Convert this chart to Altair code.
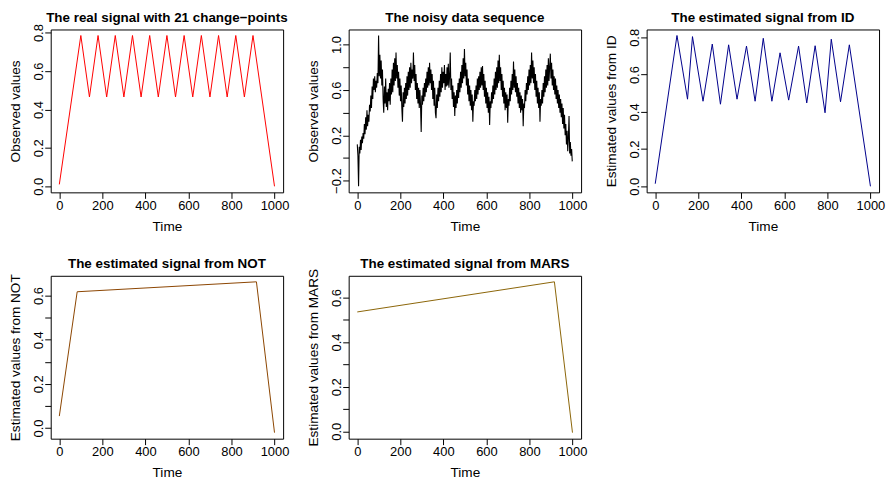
import altair as alt
import pandas as pd

FONT = "Liberation Sans"

# ---- data ----
real_t = [0, 100, 140, 180, 220, 260, 300, 340, 380, 420, 460, 500,
          540, 580, 620, 660, 700, 740, 780, 820, 860, 900, 1000]
real_v = [0.01, 0.785, 0.465, 0.785, 0.465, 0.785, 0.465, 0.785, 0.465, 0.785, 0.465, 0.785,
          0.465, 0.785, 0.465, 0.785, 0.465, 0.785, 0.465, 0.785, 0.465, 0.785, 0.0]

noisy_v = [
    0.12, 0.02, -0.25, 0.10, 0.04, 0.16, 0.07, 0.19, 0.13, 0.22,
    0.17, 0.30, 0.21, 0.36, 0.25, 0.42, 0.28, 0.38, 0.32, 0.47,
    0.41, 0.55, 0.44, 0.63, 0.52, 0.70, 0.60, 0.72, 0.58, 0.68,
    0.62, 0.75, 0.66, 1.08, 0.72, 0.91, 0.70, 0.86, 0.64, 0.78,
    0.52, 0.40, 0.63, 0.48, 0.70, 0.45, 0.58, 0.42, 0.61, 0.50,
    0.66, 0.47, 0.70, 0.56, 0.78, 0.58, 0.84, 0.64, 0.88, 0.68,
    0.93, 0.70, 0.82, 0.62, 0.76, 0.55, 0.70, 0.50, 0.64, 0.44,
    0.32, 0.58, 0.45, 0.62, 0.48, 0.66, 0.52, 0.72, 0.55, 0.76,
    0.60, 0.80, 0.62, 0.84, 0.66, 0.78, 0.70, 0.93, 0.68, 0.82,
    0.60, 0.74, 0.52, 0.66, 0.48, 0.62, 0.44, 0.60, 0.46, 0.23,
    0.55, 0.47, 0.62, 0.50, 0.66, 0.54, 0.70, 0.58, 0.76, 0.62,
    0.80, 0.64, 0.84, 0.66, 0.78, 0.60, 0.74, 0.52, 0.68, 0.46,
    0.62, 0.40, 0.35, 0.56, 0.44, 0.62, 0.50, 0.68, 0.54, 0.74,
    0.58, 0.80, 0.62, 0.76, 0.66, 0.82, 0.60, 0.74, 0.63, 0.80,
    0.64, 0.83, 0.62, 0.72, 0.93, 0.60, 0.70, 0.52, 0.64, 0.45,
    0.58, 0.37, 0.55, 0.44, 0.60, 0.48, 0.66, 0.53, 0.70, 0.58,
    0.76, 0.62, 0.82, 0.66, 0.88, 0.70, 0.96, 0.72, 0.84, 0.64,
    0.78, 0.56, 0.70, 0.50, 0.64, 0.46, 0.60, 0.42, 0.56, 0.32,
    0.50, 0.46, 0.60, 0.50, 0.64, 0.52, 0.70, 0.56, 0.72, 0.60,
    0.76, 0.62, 0.80, 0.64, 0.81, 0.60, 0.74, 0.54, 0.68, 0.48,
    0.62, 0.44, 0.58, 0.40, 0.54, 0.29, 0.50, 0.44, 0.58, 0.48,
    0.64, 0.52, 0.70, 0.56, 0.76, 0.60, 0.80, 0.62, 0.86, 0.66,
    0.91, 0.68, 0.80, 0.60, 0.74, 0.54, 0.68, 0.48, 0.62, 0.42,
    0.58, 0.44, 0.56, 0.31, 0.52, 0.46, 0.62, 0.50, 0.68, 0.56,
    0.74, 0.60, 0.85, 0.62, 0.78, 0.58, 0.72, 0.54, 0.66, 0.48,
    0.62, 0.44, 0.58, 0.40, 0.55, 0.42, 0.52, 0.28, 0.48, 0.44,
    0.60, 0.50, 0.66, 0.56, 0.72, 0.60, 0.78, 0.64, 0.82, 0.66,
    0.93, 0.70, 0.86, 0.66, 0.80, 0.60, 0.74, 0.54, 0.68, 0.48,
    0.62, 0.44, 0.58, 0.32, 0.52, 0.46, 0.60, 0.48, 0.66, 0.54,
    0.72, 0.58, 0.78, 0.62, 0.82, 0.64, 0.88, 0.68, 0.80, 0.92,
    0.70, 0.84, 0.64, 0.78, 0.60, 0.72, 0.56, 0.70, 0.52, 0.64,
    0.48, 0.60, 0.44, 0.56, 0.40, 0.52, 0.36, 0.48, 0.30, 0.44,
    0.26, 0.38, 0.20, 0.30, 0.12, 0.24, 0.06, 0.18, 0.37, 0.04,
    0.14, 0.02, 0.08, -0.03,
]
noisy_t = list(range(0, 1000, 3))

id_t = [0, 101, 150, 173, 222, 265, 303, 341, 380, 424, 464, 502,
        542, 580, 620, 666, 704, 743, 789, 818, 861, 902, 1000]
id_v = [0.014, 0.81, 0.468, 0.804, 0.457, 0.764, 0.441, 0.76, 0.468, 0.753, 0.457, 0.795,
        0.457, 0.717, 0.463, 0.753, 0.448, 0.755, 0.395, 0.79, 0.454, 0.76, 0.0]

not_t = [0, 83, 916, 1000]
not_v = [0.054, 0.617, 0.662, -0.021]

mars_t = [0, 916, 1000]
mars_v = [0.535, 0.670, -0.006]

x_ticks = [0, 200, 400, 600, 800, 1000]

W, H = 234, 164


def ext(lo, hi):
    d = (hi - lo) * 0.04
    return [lo - d, hi + d]


def panel(ts, vs, color, title, ytitle, yticks, label_ids, lw=1.0):
    df = pd.DataFrame({"t": ts, "v": vs})
    label_expr = (
        "indexof([" + ",".join(str(i) for i in label_ids) + "], round(datum.value*10)) >= 0"
        " ? format(datum.value, '.1f') : ''"
    )
    line = (
        alt.Chart(df)
        .mark_line(color=color, strokeWidth=lw)
        .encode(
            x=alt.X(
                "t:Q",
                scale=alt.Scale(domain=ext(0, 1000), nice=False, zero=False),
                axis=alt.Axis(
                    title="Time", values=x_ticks, format="d", labelOverlap=False,
                    labelFlush=False,
                ),
            ),
            y=alt.Y(
                "v:Q",
                scale=alt.Scale(domain=ext(min(vs), max(vs)), nice=False, zero=False),
                axis=alt.Axis(
                    title=ytitle, values=yticks, labelExpr=label_expr,
                    labelAngle=270, labelAlign="center", labelBaseline="bottom",
                    labelOverlap=False, labelFlush=False,
                ),
            ),
        )
    )
    head = (
        alt.Chart(pd.DataFrame({"label": [title]}))
        .mark_text(font=FONT, fontSize=13.5, fontWeight="bold", color="black",
                   align="center", baseline="alphabetic")
        .encode(text="label:N", x=alt.value(W / 2), y=alt.value(-8))
    )
    return alt.layer(line, head).properties(width=W, height=H)


y08 = [0.0, 0.2, 0.4, 0.6, 0.8]
p1 = panel(real_t, real_v, "#FF0000", "The real signal with 21 change\u2212points",
           "Observed values", y08, [0, 2, 4, 6, 8])
p2 = panel(noisy_t, noisy_v, "#000000", "The noisy data sequence", "Observed values",
           [-0.2, 0.0, 0.2, 0.4, 0.6, 0.8, 1.0], [-2, 2, 6, 10], lw=1.1)
p3 = panel(id_t, id_v, "#00008B", "The estimated signal from ID",
           "Estimated values from ID", y08, [0, 2, 4, 6, 8])
y06 = [0.0, 0.1, 0.2, 0.3, 0.4, 0.5, 0.6]
p4 = panel(not_t, not_v, "#8B4500", "The estimated signal from NOT",
           "Estimated values from NOT", y06, [0, 2, 4, 6])
p5 = panel(mars_t, mars_v, "#8B6508", "The estimated signal from MARS",
           "Estimated values from MARS", y06, [0, 2, 4, 6])

chart = (
    alt.concat(p1, p2, p3, p4, p5, columns=3, bounds="flush",
               spacing={"row": 84, "column": 66})
    .properties(padding={"left": 0, "top": 0, "right": 0, "bottom": 0}, background="white")
    .configure_view(stroke="#000000", strokeWidth=1)
    .configure_axis(
        domain=False, grid=False, ticks=True, tickColor="#000000", tickSize=6,
        labelFont=FONT, labelFontSize=13, labelColor="#000000",
        titleFont=FONT, titleFontSize=13.7, titleFontWeight="normal", titleColor="#000000",
    )
    .configure_axisX(labelPadding=1, titlePadding=7)
    .configure_axisY(labelPadding=-1, titlePadding=10)
)

chart.save("out.html", embed_options={"renderer": "svg", "actions": False})
